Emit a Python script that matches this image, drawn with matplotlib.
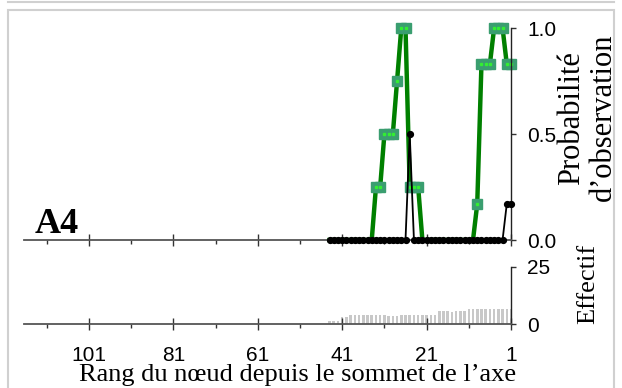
import matplotlib
matplotlib.use("Agg")
import matplotlib.pyplot as plt
import numpy as np
from matplotlib.patches import Rectangle
from matplotlib.lines import Line2D

# ---- data ----
ranks = list(range(44, 0, -1))  # 44 .. 1
green_prob = [0, 0, 0, 0, 0, 0, 0, 0, 0, 0,           # 44-35
              0, 0.25, 0.25, 0.5, 0.5, 0.5, 0.75,       # 34-28
              1.0, 1.0, 0.25, 0.25, 0.25, 0,            # 27-22
              0, 0, 0, 0, 0, 0, 0, 0, 0, 0,             # 21-12
              0, 0, 0.17, 0.83, 0.83, 0.83,             # 11-6
              1.0, 1.0, 1.0, 0.83, 0.83]                # 5-1
black_prob = [0] * 19 + [0.5] + [0] * 22 + [0.17, 0.17]
effectif = [1.1, 1.1, 1.1, 3.1, 3.1,                    # 44-40
            3.85, 3.85, 3.85, 3.85, 3.85, 3.85, 3.85, 3.85, 3.85,  # 39-31
            3.5, 3.5, 3.7,                              # 30-28
            3.85, 3.85, 3.85, 3.85, 3.85, 3.85, 3.85, 3.85, 3.85,  # 27-19
            5.5, 5.5, 5.5, 5.2, 5.5, 5.5, 5.5,          # 18-12
            6.7, 6.7, 6.7, 6.7, 6.7, 6.7, 6.7, 6.7, 6.7, 6.7, 6.7]  # 11-1
major_ticks = [101, 81, 61, 41, 21, 1]
minor_ticks = [111, 91, 71, 51, 31, 11]
prob_ticks = [0.0, 0.5, 1.0]
prob_labels = ["0.0", "0.5", "1.0"]
eff_ticks = [0, 25]
eff_labels = ["0", "25"]

SANS = "Liberation Sans"
SERIF = "Liberation Serif"

W, H = 622, 388
fig = plt.figure(figsize=(W / 100, H / 100), dpi=100)

def fx(px):
    return px / W

def fy(py):
    return 1 - py / H

xl, xr = 24, 511
ax1 = fig.add_axes([fx(xl), fy(240), fx(xr - xl), (240 - 28) / H])
ax2 = fig.add_axes([fx(xl), fy(324), fx(xr - xl), (324 - 267) / H])

xmin = 1 + (xr - xl) / 4.22

for ax in (ax1, ax2):
    ax.set_xlim(xmin, 1)
    ax.patch.set_visible(False)
    for s in ("left", "top"):
        ax.spines[s].set_visible(False)
    ax.spines["bottom"].set_color("#555555")
    ax.spines["bottom"].set_linewidth(1.3)
    ax.spines["right"].set_color("#222222")
    ax.spines["right"].set_linewidth(1.0)
    ax.set_xticks(major_ticks)
    ax.set_xticks(minor_ticks, minor=True)
    ax.tick_params(axis="x", which="major", direction="inout", length=8,
                   width=1, color="#333333")
    ax.tick_params(axis="x", which="minor", direction="out", length=3,
                   width=1, color="#333333")
    ax.yaxis.tick_right()
    ax.tick_params(axis="y", which="major", direction="out", length=3.5,
                   width=1, color="#333333", pad=8)

ax1.tick_params(axis="x", labelbottom=False)
ax1.set_ylim(0, 1)
ax1.set_yticks(prob_ticks)
ax1.set_yticklabels(prob_labels, fontfamily=SANS, fontsize=15)

g = np.array(green_prob, dtype=float)
r = np.array(ranks)
ax1.plot(r, g, color="#008000", lw=3.2, zorder=2, clip_on=False)
nz = g > 0
ax1.plot(r[nz], g[nz], ls="none", marker="s", ms=6.5,
         mfc="#3a9e70", mec="#3a9e70", zorder=2.2, clip_on=False)
ax1.plot(r[nz], g[nz], ls="none", marker="s", ms=1.8,
         color="#33ee33", zorder=2.5, clip_on=False)
ax1.plot(ranks, black_prob, color="black", lw=1.3, marker="o", ms=4.2,
         zorder=3, clip_on=False)

ax2.set_ylim(0, 25)
ax2.set_yticks(eff_ticks)
ax2.set_yticklabels(eff_labels, fontfamily=SANS, fontsize=15)
ax2.bar(ranks, effectif, width=0.6, color="#c8c8c8", zorder=1)
ax2.set_xticklabels([str(t) for t in major_ticks], fontfamily=SANS,
                    fontsize=15)
ax2.tick_params(axis="x", which="major", pad=12)

fig.text(fx(572), fy(118), "Probabilité", rotation=90, ha="center",
         va="center", fontfamily=SERIF, fontsize=22)
fig.text(fx(603), fy(117), "d\u2019observation", rotation=90, ha="center",
         va="center", fontfamily=SERIF, fontsize=22)
fig.text(fx(588), fy(284), "Effectif", rotation=90, ha="center",
         va="center", fontfamily=SERIF, fontsize=19)
fig.text(fx(298), fy(375), "Rang du n\u0153ud depuis le sommet de l\u2019axe",
         ha="center", va="center", fontfamily=SERIF, fontsize=19)
fig.text(fx(35), fy(233), "A4", ha="left", va="baseline",
         fontfamily=SERIF, fontweight="bold", fontsize=26)

# panel frames
fig.add_artist(Rectangle((fx(8), -0.05), fx(614 - 8), fy(10) + 0.05,
                         transform=fig.transFigure, fill=False,
                         ec="#d0d0d0", lw=1.5))
fig.add_artist(Line2D([fx(8), fx(614)], [fy(1.5), fy(1.5)],
                      transform=fig.transFigure, color="#d0d0d0", lw=1.5))

fig.savefig("out.png", dpi=100)
